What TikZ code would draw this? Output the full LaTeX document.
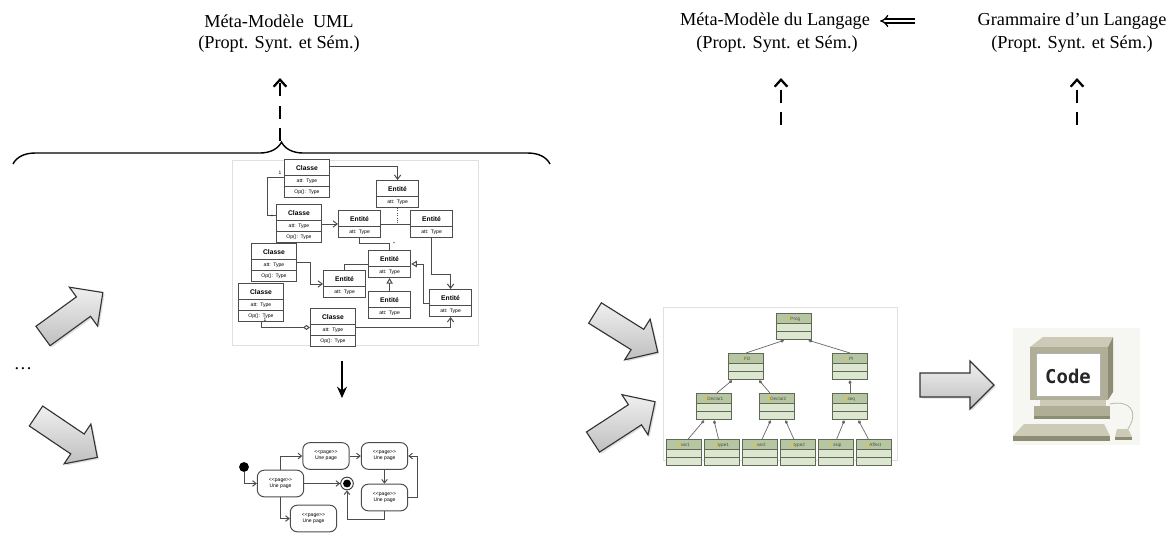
\documentclass[tikz,border=0pt]{standalone}
\usepackage{fontspec}
\setmainfont{Liberation Serif}
\setsansfont{Liberation Sans}
\newfontfamily\codefont{DejaVu Sans Mono}
\usepackage{tikz}
\usetikzlibrary{arrows.meta,shapes.multipart,shadows,decorations.pathreplacing}

\definecolor{pcbody}{HTML}{B0AE96}
\definecolor{pcdark}{HTML}{8E8C73}
\definecolor{pclight}{HTML}{CDCBB7}
\definecolor{pcback}{HTML}{F6F6F3}
\definecolor{treehead}{HTML}{B7C6A2}
\definecolor{treebody}{HTML}{DDE6D1}
\definecolor{treeline}{HTML}{5F6A55}
\definecolor{treeicon}{HTML}{E2C24A}

% contenu des boites
\newcommand{\nompart}[1]{\rule[-3.2pt]{0pt}{10.7pt}{\bfseries\fontsize{4.8}{5}\selectfont #1}}
\newcommand{\rowpart}[1]{\rule[-2.3pt]{0pt}{7.1pt}#1}
\newcommand{\txtclasse}{\nompart{Classe}\nodepart{two}\rowpart{att: Type}\nodepart{three}\rowpart{Op(): Type}}
\newcommand{\txtentite}{\nompart{Entit\'e}\nodepart{two}\rowpart{att: Type}}
\newcommand{\txtpage}{\textless\kern0pt\textless page\textgreater\kern0pt\textgreater\\Une page}
\newcommand{\tboxtext}[1]{\rule[-1.8pt]{0pt}{6.6pt}\textcolor{treeicon}{\rule{1.3pt}{2.6pt}}\,#1\nodepart{two}\rule{0pt}{5.2pt}\nodepart{three}\rule{0pt}{5.2pt}}

\tikzset{
    headtext/.style={font=\fontsize{13}{15.5}\selectfont, inner sep=0pt},
    dasharrow/.style={
        line width=1.6pt,
        dash pattern=on 9pt off 7pt,
        -{Straight Barb[length=5pt, width=9pt, line width=1.6pt]}
    },
    implies/.style={
        double, double distance=2pt, line width=0.9pt,
        -{Implies}
    },
    downarrow/.style={
        line width=1.5pt,
        -{Stealth[length=8pt, width=7pt]}
    },
    frame/.style={draw=black!12, line width=0.6pt},
    % diagramme de classes
    classe/.style={
        rectangle split, rectangle split parts=3,
        draw=black!70, line width=0.7pt, fill=white,
        text width=30pt, align=center, inner xsep=1pt, inner ysep=0pt,
        font=\sffamily\fontsize{3.6}{4}\selectfont, anchor=north west
    },
    entite/.style={classe, rectangle split parts=2, text width=28pt},
    assoc/.style={draw=black!70, line width=0.7pt},
    navig/.style={assoc, -{Straight Barb[length=3pt, width=4.5pt]}},
    gen/.style={assoc, -{Triangle[open, length=4pt, width=4.5pt]}},
    agreg/.style={assoc, -{Diamond[open, length=5pt, width=3.5pt]}},
    mult/.style={font=\sffamily\fontsize{3.5}{4}\selectfont, inner sep=0.3pt},
    % diagramme d'etats
    etat/.style={
        draw=black!70, line width=0.7pt, rounded corners=5pt, fill=white,
        minimum width=33pt, minimum height=19pt, inner sep=0pt, align=center,
        font=\sffamily\fontsize{3.6}{4.3}\selectfont
    },
    init/.style={circle, fill=black, minimum size=7pt, inner sep=0pt},
    final/.style={circle, draw=black!75, line width=0.7pt, fill=white,
        minimum size=9pt, inner sep=0pt,
        path picture={\fill[black] (path picture bounding box.center) circle (2.8pt);}},
    trans/.style={draw=black!70, line width=0.7pt, -{Straight Barb[length=2.5pt, width=4pt]}},
    % arbre syntaxique
    tbox/.style={
        rectangle split, rectangle split parts=3,
        draw=treeline, line width=0.6pt,
        rectangle split part fill={treehead,treebody,treebody},
        text width=23pt, align=center, inner xsep=1pt, inner ysep=0pt,
        font=\sffamily\fontsize{3.3}{3.5}\selectfont, text=black!70, anchor=north west
    },
    tlink/.style={draw=black!60, line width=0.5pt, {Diamond[length=3pt, width=2.2pt]}-},
    % grosses fleches grises
    blockarrow/.pic={
        \draw[line width=0.8pt, draw=black!80, top color=white!94!black, bottom color=black!25,
            drop shadow={opacity=0.25, shadow xshift=1.2pt, shadow yshift=-1.2pt}]
            (0,-12) -- (50,-12) -- (50,-24) -- (74,0) -- (50,24) -- (50,12) -- (0,12) -- cycle;
    }
}

\begin{document}
\begin{tikzpicture}[x=0.025cm, y=-0.025cm]
    \useasboundingbox (0,0) rectangle (1172,533);

    % titres
    \node[headtext] (umlA) at (279,21) {M\'eta-Mod\`ele\ \ UML};
    \node[headtext] (umlB) at (279,44) {(Propt. Synt. et S\'em.)};
    \node[headtext] (metaA) at (775,21) {M\'eta-Mod\`ele du Langage};
    \node[headtext] (metaB) at (777,44) {(Propt. Synt. et S\'em.)};
    \node[headtext] (gramA) at (1072,21) {Grammaire d’un Langage};
    \node[headtext] (gramB) at (1072,44) {(Propt. Synt. et S\'em.)};
    \draw[implies, shorten <=44pt, shorten >=7pt] (gramA) -- (metaA);

    % fleches pointillees
    \coordinate (u1) at (280,141);
    \coordinate (u2) at (280,78);
    \coordinate (l1) at (781,125);
    \coordinate (l2) at (781,78);
    \coordinate (g1) at (1077,125);
    \coordinate (g2) at (1077,78);
    \draw[dasharrow] (u1) -- (u2);
    \draw[dasharrow] (l1) -- (l2);
    \draw[dasharrow] (g1) -- (g2);

    % accolade
    \draw[decorate, decoration={brace, amplitude=15.6pt}, line width=1pt] (13,164) -- (550,164);

    % grosses fleches
    \pic[rotate=36] (flA) at (43,336) {blockarrow};
    \pic[rotate=-34] (flB) at (36,416) {blockarrow};
    \pic[rotate=-32] (flC) at (595,313) {blockarrow};
    \pic[rotate=33] (flD) at (593,442) {blockarrow};
    \pic (flE) at (920,385) {blockarrow};
    \node[headtext] (dots) at (23,369) {\dots};

    % diagramme de classes
    \draw[frame] (232,160) rectangle (478,345);
    \node[classe] (c1) at (284,159) {\txtclasse};
    \node[entite] (e2) at (376,180) {\txtentite};
    \node[classe] (c3) at (276,204) {\txtclasse};
    \node[entite] (e4) at (338,210) {\txtentite};
    \node[entite] (e5) at (410,210) {\txtentite};
    \node[classe] (c6) at (251,243) {\txtclasse};
    \node[entite] (e7) at (368,250) {\txtentite};
    \node[entite] (e8) at (323,270) {\txtentite};
    \node[classe] (c9) at (238,283) {\txtclasse};
    \node[entite] (e10) at (368,291) {\txtentite};
    \node[entite] (e11) at (429,289) {\txtentite};
    \node[classe] (c12) at (310,308) {\txtclasse};

    \draw[navig] ([yshift=-5.3pt]c1.north east) -| (e2.north);
    \draw[assoc] ([yshift=-13.5pt]c1.north west) -- ++(-17,0) |- ([yshift=-8pt]c3.north west);
    \draw[navig] (c3.east |- e4.west) -- (e4.west);
    \draw[assoc] (e4.east) -- (e5.west);
    \draw[assoc, densely dotted] (e2.south) -- (e2.south |- e4.east);
    \draw[assoc] (e4.south) -- ++(0,6) -| (e7.north);
    \draw[navig] (e5.south) -- ++(0,37) -| (e11.north);
    \draw[gen] (e11.west) -- ++(-6,0) |- (e7.east);
    \draw[gen] (e10.north) -- (e7.south);
    \draw[assoc] (e7.west) -| (e8.north);
    \draw[navig] (c6.east) -- ++(14,0) |- (e8.west);
    \draw[agreg] (c9.south) |- (c12.west);
    \draw[navig] (c12.east) -| (e11.south);
    \node[mult] (m1) at (280,173) {1};
    \node[mult] (m2) at (272,217) {*};
    \node[mult] (m3) at (394,244) {*};
    \node[mult] (m4) at (265,320) {1};

    \coordinate (d1) at (342,361);
    \coordinate (d2) at (342,398);
    \draw[downarrow] (d1) -- (d2);

    % diagramme d'etats
    \node[init] (s0) at (244,467) {};
    \node[etat] (sA) at (280.5,483.5) {\txtpage};
    \node[etat] (sB) at (326,456) {\txtpage};
    \node[etat] (sC) at (384.5,456) {\txtpage};
    \node[etat] (sD) at (384.5,497.5) {\txtpage};
    \node[etat] (sE) at (313.5,518.5) {\txtpage};
    \node[final] (sF) at (347,483.5) {};

    \draw[trans] (s0) |- (sA.west);
    \draw[trans] (sA.north) |- (sB.west);
    \draw[trans] (sB) -- (sC);
    \draw[trans] (sC) -- (sD);
    \draw[trans] (sD.east) -- ++(9,0) |- (sC.east);
    \draw[trans] (sA) -- (sF);
    \draw[trans] (sD.south) -- ++(0,8) -| (sF.south);
    \draw[trans] (sA.south) |- (sE.west);

    % arbre syntaxique
    \draw[frame] (663,307) rectangle (897,460);
    \node[tbox] (prog) at (776,313) {\tboxtext{Prog}};
    \node[tbox] (fd) at (728,353) {\tboxtext{FD}};
    \node[tbox] (pi) at (832,353) {\tboxtext{PI}};
    \node[tbox] (decl1) at (696,393) {\tboxtext{Declar1}};
    \node[tbox] (decl2) at (759,393) {\tboxtext{Declar2}};
    \node[tbox] (seq) at (832,393) {\tboxtext{seq}};
    \node[tbox] (var1) at (666,439) {\tboxtext{var1}};
    \node[tbox] (type1) at (704,439) {\tboxtext{type1}};
    \node[tbox] (var2) at (742,439) {\tboxtext{var2}};
    \node[tbox] (type2) at (780,439) {\tboxtext{type2}};
    \node[tbox] (skip) at (818,439) {\tboxtext{skip}};
    \node[tbox] (affect) at (856,439) {\tboxtext{Affect}};

    \draw[tlink] ([xshift=5.7pt]prog.south west) -- (fd.north);
    \draw[tlink] ([xshift=-2.5pt]prog.south east) -- (pi.north);
    \draw[tlink] (pi.south) -- (seq.north);
    \draw[tlink] ([xshift=3pt]fd.south west) -- ([xshift=2pt]decl1.north);
    \draw[tlink] ([xshift=-3.5pt]fd.south east) -- ([xshift=-5pt]decl2.north);
    \draw[tlink] ([xshift=-7pt]decl1.south) -- ([xshift=3pt]var1.north);
    \draw[tlink] (decl1.south) -- ([xshift=-2.5pt]type1.north);
    \draw[tlink] ([xshift=-4.5pt]decl2.south) -- ([xshift=1.5pt]var2.north);
    \draw[tlink] ([xshift=6pt]decl2.south) -- ([xshift=-3pt]type2.north);
    \draw[tlink] ([xshift=-4pt]seq.south) -- ([xshift=0.5pt]skip.north);
    \draw[tlink] ([xshift=6pt]seq.south) -- ([xshift=-4pt]affect.north);

    % ordinateur
    \fill[pcback] (1013,328) rectangle (1140,445);
    \fill[pclight] (1030,347) -- (1043,337) -- (1113,337) -- (1108,347) -- cycle;
    \fill[pcdark] (1108,347) -- (1113,337) -- (1113,392) -- (1108,400) -- cycle;
    \fill[pcbody] (1030,347) rectangle (1108,400);
    \draw[fill=white, draw=black!30, line width=0.4pt] (1036,353) rectangle (1100,396);
    \node[font=\codefont\bfseries\fontsize{13.5}{14}\selectfont, text=black!85] (code) at (1068,376) {Code};
    \fill[pclight] (1040,400) rectangle (1106,406);
    \fill[pcbody] (1034,406) rectangle (1110,419);
    \fill[pcdark] (1034,416) rectangle (1110,419);
    \fill[pclight] (1024,424) -- (1104,424) -- (1110,436) -- (1013,436) -- cycle;
    \fill[pcdark] (1013,436) rectangle (1110,441);
    \fill[pclight] (1117,429) -- (1128,429) -- (1132,437) -- (1115,437) -- cycle;
    \fill[pcdark] (1115,437) rectangle (1132,440);
    \draw[pcdark!60, line width=0.6pt] (1110,404) .. controls (1128,400) and (1140,410) .. (1128,429);
\end{tikzpicture}
\end{document}
